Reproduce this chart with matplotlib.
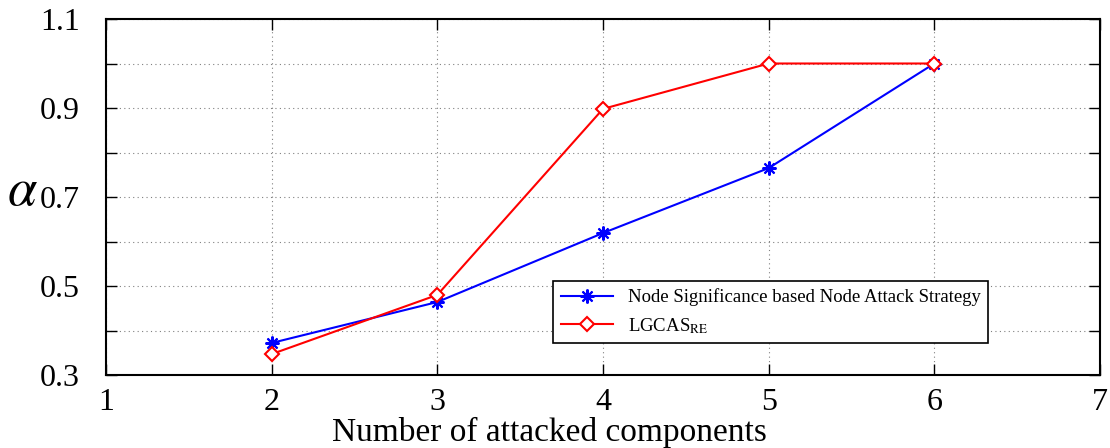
import numpy as np
import matplotlib.pyplot as plt

plt.rcParams["font.family"] = "Liberation Serif"
plt.rcParams["mathtext.fontset"] = "stix"

attacks = [2, 3, 4, 5, 6]
alpha_nsnas = [0.372, 0.464, 0.619, 0.765, 1.0]
alpha_lgcas = [0.347, 0.480, 0.898, 1.0, 1.0]

x_ticks = [1, 2, 3, 4, 5, 6, 7]
y_major = [0.3, 0.5, 0.7, 0.9, 1.1]
y_minor = [0.4, 0.6, 0.8, 1.0]

fig = plt.figure(figsize=(11.1, 4.48), dpi=100)
ax = fig.add_axes([106/1110, 1 - 375/448, 994/1110, 356/448])

ax.plot(attacks, alpha_nsnas, color="blue", lw=1.5, marker=(8, 2, 0), ms=10,
        mec="blue", mew=1.5, label="Node Significance based Node Attack Strategy")
ax.plot(attacks, alpha_lgcas, color="red", lw=1.5, marker="D", ms=7,
        mfc="white", mec="red", mew=1.5, label=r"LGCAS$_{\mathrm{RE}}$")

ax.set_xlim(1, 7)
ax.set_ylim(0.3, 1.1)
ax.set_xticks(x_ticks)
ax.set_yticks(y_major)
ax.set_yticks(y_minor, minor=True)
ax.grid(True, which="both", linestyle=(0, (1, 3)), color="gray", lw=0.8)
ax.tick_params(which="both", direction="in", top=True, right=True,
               labelsize=23, length=8, width=1)
ax.tick_params(axis="x", pad=9)
ax.tick_params(axis="y", pad=19)
for s in ax.spines.values():
    s.set_linewidth(1.5)

fig.text(549/1110, 1 - 432/448, "Number of attacked components",
         fontsize=24, ha="center", va="center")
fig.text(22/1110, 1 - 192/448, r"$\alpha$", fontsize=38, ha="center", va="center")

leg = ax.legend(loc="lower left", bbox_to_anchor=((553 - 106)/994, (375 - 343)/356),
                fontsize=13.5, fancybox=False, framealpha=1, edgecolor="black",
                handlelength=2.8, borderpad=0.4, borderaxespad=0)
leg.get_frame().set_linewidth(1.2)

fig.savefig("out.png", dpi=100)
